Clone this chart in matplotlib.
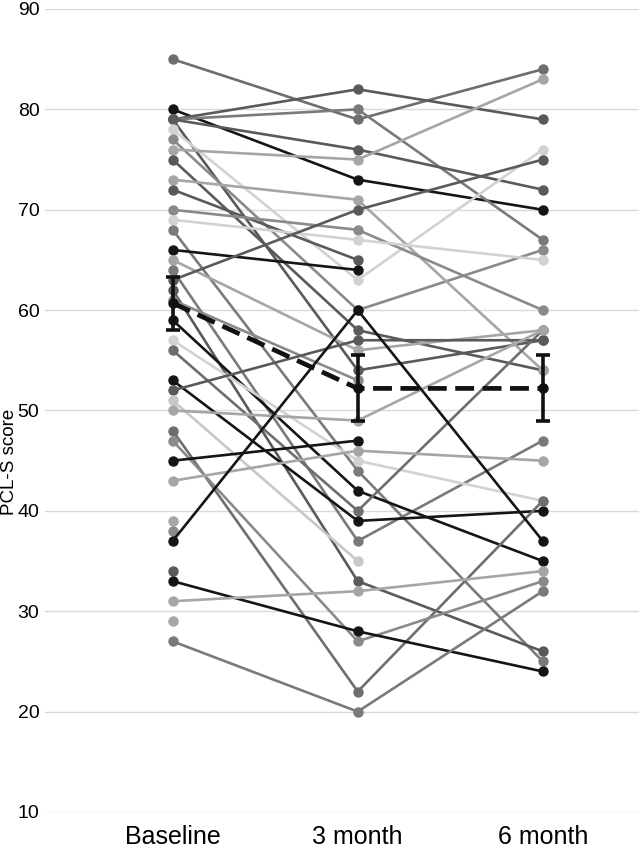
import numpy as np
import matplotlib
matplotlib.use("Agg")
import matplotlib.pyplot as plt

plt.rcParams['font.family'] = ['Liberation Sans', 'DejaVu Sans']

timepoints = ["Baseline", "3 month", "6 month"]
nan = np.nan

# individual PCL-S scores per participant
baseline = [85, 80, 79, 79, 79, 79, 78, 77, 76, 75, 73, 72, 70, 69, 68, 66, 65,
            64, 63, 62, 61, 59, 57, 56, 53, 52, 51, 50, 48, 47, 45, 43, 39, 38,
            37, 34, 33, 31, 29, 27]
month3 = [79, 73, 82, 80, 76, 54, 63, 60, 75, 58, 71, 65, 68, 67, 44, 64, 56,
          37, 70, 33, 53, 42, 45, 40, 39, 57, 35, 49, 22, 27, 47, 46, nan, nan,
          60, nan, 28, 32, nan, 20]
month6 = [84, 70, 79, 67, 72, 57, 76, 66, 83, 54, 54, nan, 60, 65, 25, nan, 58,
          47, 75, 26, nan, 35, 41, 58, 40, 57, nan, 58, 41, 33, nan, 45, nan, nan,
          37, nan, 24, 34, nan, 32]
shade = ["#6e6e6e", "#151515", "#5a5a5a", "#7a7a7a", "#5a5a5a", "#5a5a5a", "#d2d2d2",
         "#8a8a8a", "#a6a6a6", "#5a5a5a", "#a6a6a6", "#5a5a5a", "#8a8a8a", "#d2d2d2",
         "#7a7a7a", "#151515", "#a6a6a6", "#7a7a7a", "#5a5a5a", "#5a5a5a", "#8a8a8a",
         "#151515", "#d2d2d2", "#6e6e6e", "#151515", "#5a5a5a", "#c8c8c8", "#a6a6a6",
         "#6e6e6e", "#8a8a8a", "#151515", "#a6a6a6", "#a6a6a6", "#8a8a8a", "#151515",
         "#5a5a5a", "#151515", "#a6a6a6", "#a6a6a6", "#7a7a7a"]

mean_scores = [60.7, 52.2, 52.2]
err_low = [58.0, 49.0, 49.0]
err_high = [63.3, 55.5, 55.5]

fig = plt.figure(figsize=(6.39, 8.51), dpi=100)
ax = fig.add_axes([45/639, 39/851, 1 - 45/639, (812 - 9)/851])

xs = np.arange(len(timepoints))
for b, m3, m6, c in zip(baseline, month3, month6, shade):
    ys = np.array([b, m3, m6], dtype=float)
    ax.plot(xs, ys, color=c, lw=1.9, marker="o", ms=6.5, mec=c, mfc=c,
            solid_capstyle="round", zorder=2)

mean_arr = np.array(mean_scores)
yerr = np.vstack([mean_arr - np.array(err_low), np.array(err_high) - mean_arr])
ax.errorbar(xs, mean_arr, yerr=yerr, color="#111111", lw=3.4, ls=(0, (4, 1.8)),
            marker="o", ms=6.5, ecolor="#111111", elinewidth=2.6, capsize=5,
            capthick=2.6, zorder=5)

ax.set_xlim(-0.69, 2.52)
ax.set_ylim(10, 90)
ax.set_yticks(np.arange(10, 91, 10))
ax.set_xticks(xs)
ax.set_xticklabels(timepoints, fontsize=18)
ax.tick_params(axis="y", labelsize=14, length=0, pad=4)
ax.tick_params(axis="x", length=0, pad=9)
ax.grid(axis="y", color="#d9d9d9", lw=1)
ax.set_axisbelow(True)
for s in ax.spines.values():
    s.set_visible(False)
fig.text(10/639, 1 - 462/851, "PCL-S score", rotation=90, fontsize=13.5,
         ha="center", va="center")

fig.savefig("out.png", dpi=100)
